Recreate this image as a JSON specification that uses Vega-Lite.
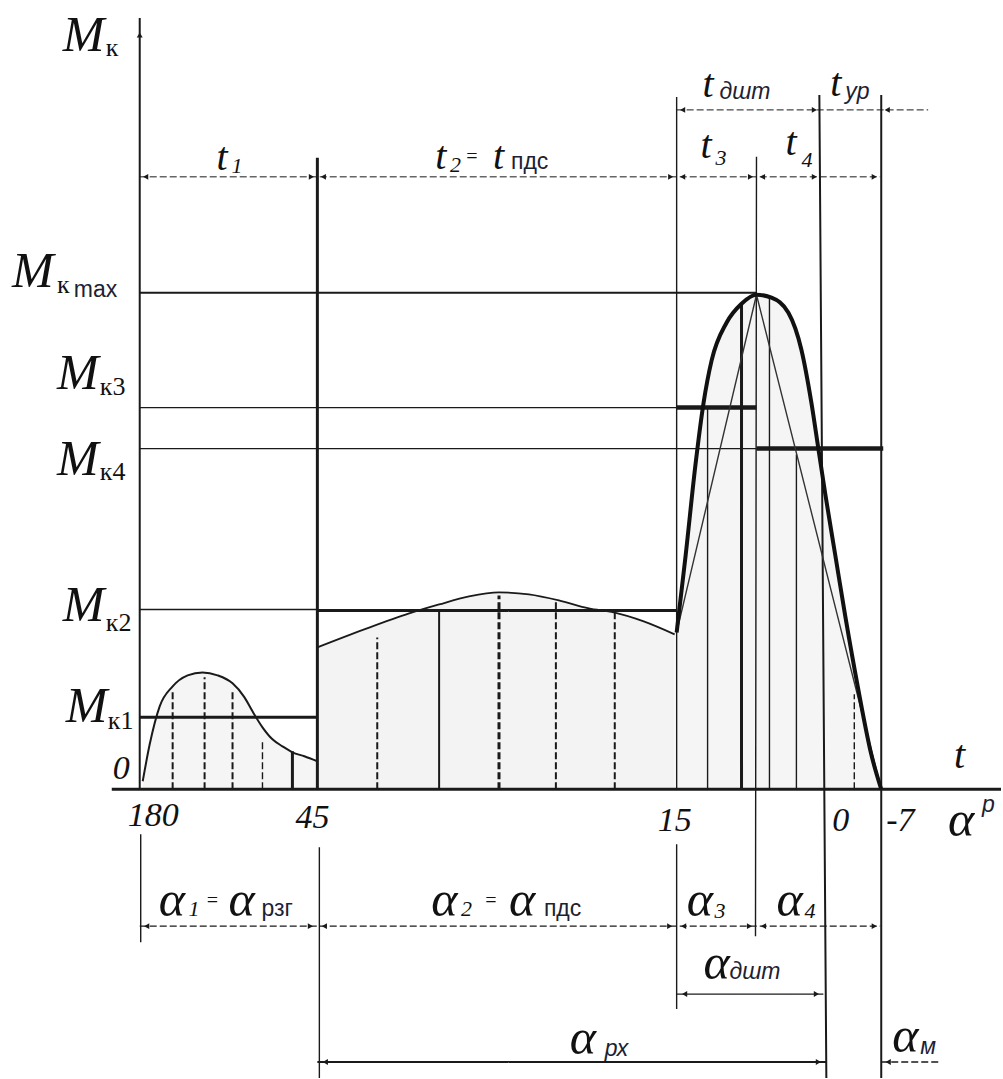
{
  "$schema": "https://vega.github.io/schema/vega-lite/v6.json",
  "width": 1003,
  "height": 1079,
  "autosize": {"type": "fit", "contains": "padding"},
  "padding": 0,
  "background": "white",
  "config": {"view": {"stroke": null}},
  "datasets": {
    "rules": [
      {"x":140,"x2":140,"y":0,"y2":772,"w":"med","d":"solid"},
      {"x":112,"x2":1003,"y":0,"y2":0,"w":"thick","d":"solid"},
      {"x":140,"x2":758,"y":497,"y2":497,"w":"med","d":"solid"},
      {"x":140,"x2":678,"y":382,"y2":382,"w":"thin","d":"solid"},
      {"x":678,"x2":758,"y":382,"y2":382,"w":"heavy","d":"solid"},
      {"x":140,"x2":758,"y":341,"y2":341,"w":"thin","d":"solid"},
      {"x":758,"x2":885,"y":341,"y2":341,"w":"heavy","d":"solid"},
      {"x":140,"x2":318,"y":180,"y2":180,"w":"thin","d":"solid"},
      {"x":318,"x2":678,"y":179,"y2":179,"w":"thick","d":"solid"},
      {"x":140,"x2":318,"y":72,"y2":72,"w":"thick","d":"solid"},
      {"x":318,"x2":318,"y":0,"y2":632,"w":"thick","d":"solid"},
      {"x":320,"x2":320,"y":-58,"y2":-289,"w":"thin","d":"solid"},
      {"x":678,"x2":678,"y":0,"y2":693,"w":"thin","d":"solid"},
      {"x":678,"x2":678,"y":-55,"y2":-220,"w":"thin","d":"solid"},
      {"x":757,"x2":758,"y":-147,"y2":633,"w":"thin","d":"solid"},
      {"x":821,"x2":828,"y":695,"y2":-289,"w":"med","d":"solid"},
      {"x":883,"x2":883,"y":695,"y2":-289,"w":"med","d":"solid"},
      {"x":141,"x2":141,"y":-45,"y2":-153,"w":"thin","d":"solid"},
      {"x":140,"x2":882,"y":613,"y2":613,"w":"hair","d":"dash"},
      {"x":678,"x2":930,"y":680,"y2":680,"w":"hair","d":"dash"},
      {"x":140,"x2":882,"y":-137,"y2":-137,"w":"thin","d":"dash"},
      {"x":678,"x2":825,"y":-205,"y2":-205,"w":"thin","d":"solid"},
      {"x":318,"x2":828,"y":-273,"y2":-273,"w":"med","d":"solid"},
      {"x":883,"x2":943,"y":-273,"y2":-273,"w":"thin","d":"dash"},
      {"x":173,"x2":173,"y":0,"y2":97,"w":"med","d":"dash"},
      {"x":205,"x2":205,"y":0,"y2":112,"w":"med","d":"dash"},
      {"x":233,"x2":233,"y":0,"y2":97,"w":"med","d":"dash"},
      {"x":263,"x2":263,"y":0,"y2":50,"w":"thin","d":"dash"},
      {"x":293,"x2":293,"y":0,"y2":38,"w":"thick","d":"solid"},
      {"x":378,"x2":378,"y":0,"y2":152,"w":"med","d":"dash"},
      {"x":440,"x2":440,"y":0,"y2":180,"w":"med","d":"solid"},
      {"x":500,"x2":500,"y":0,"y2":194,"w":"thick","d":"dash"},
      {"x":557,"x2":557,"y":0,"y2":190,"w":"med","d":"dash"},
      {"x":616,"x2":616,"y":0,"y2":178,"w":"med","d":"dash"},
      {"x":709,"x2":709,"y":0,"y2":382,"w":"thin","d":"solid"},
      {"x":743,"x2":743,"y":0,"y2":486,"w":"thick","d":"solid"},
      {"x":771,"x2":771,"y":0,"y2":492,"w":"thin","d":"solid"},
      {"x":798,"x2":798,"y":0,"y2":335,"w":"thin","d":"solid"},
      {"x":856,"x2":856,"y":0,"y2":95,"w":"thin","d":"dash"}
    ],
    "c1": [
      {"x":143,"y":8},{"x":150,"y":45},{"x":160,"y":83},{"x":173,"y":103},{"x":188,"y":114},{"x":203,"y":117},{"x":218,"y":114},{"x":233,"y":106},{"x":245,"y":92},{"x":253,"y":78},{"x":263,"y":62},{"x":273,"y":50},{"x":283,"y":43},{"x":293,"y":37},{"x":305,"y":33},{"x":318,"y":28}
    ],
    "c2": [
      {"x":318,"y":142},{"x":365,"y":160},{"x":410,"y":176},{"x":440,"y":185},{"x":470,"y":193},{"x":500,"y":197},{"x":530,"y":195},{"x":560,"y":189},{"x":590,"y":181},{"x":615,"y":177},{"x":645,"y":168},{"x":676,"y":155}
    ],
    "c3": [
      {"x":678,"y":157},{"x":687,"y":234},{"x":697,"y":326},{"x":705,"y":387},{"x":713,"y":429},{"x":728,"y":467},{"x":743,"y":486},{"x":758,"y":495},{"x":773,"y":492},{"x":790,"y":477},{"x":803,"y":440},{"x":813,"y":387},{"x":820,"y":341},{"x":827,"y":295},{"x":837,"y":234},{"x":847,"y":173},{"x":860,"y":100},{"x":873,"y":35},{"x":883,"y":0}
    ],
    "tri": [
      {"x":678,"y":157},{"x":758,"y":495},{"x":883,"y":0}
    ],
    "arrows": [
      {"x":140,"y":755,"dir":"U"},
      {"x":146,"y":613,"dir":"L"},{"x":312,"y":613,"dir":"R"},{"x":324,"y":613,"dir":"L"},{"x":672,"y":613,"dir":"R"},{"x":684,"y":613,"dir":"L"},{"x":752,"y":613,"dir":"R"},{"x":764,"y":613,"dir":"L"},{"x":816,"y":613,"dir":"R"},{"x":876,"y":613,"dir":"R"},
      {"x":684,"y":680,"dir":"L"},{"x":816,"y":680,"dir":"R"},{"x":889,"y":680,"dir":"L"},
      {"x":147,"y":-137,"dir":"L"},{"x":311,"y":-137,"dir":"R"},{"x":325,"y":-137,"dir":"L"},{"x":671,"y":-137,"dir":"R"},{"x":685,"y":-137,"dir":"L"},{"x":751,"y":-137,"dir":"R"},{"x":765,"y":-137,"dir":"L"},{"x":876,"y":-137,"dir":"R"},
      {"x":686,"y":-205,"dir":"L"},{"x":818,"y":-205,"dir":"R"},
      {"x":326,"y":-273,"dir":"L"},{"x":820,"y":-273,"dir":"R"},{"x":890,"y":-273,"dir":"L"}
    ],
    "main": [
      {"label":"M","x":63,"y":754,"r":"M"},
      {"label":"M","x":12,"y":518,"r":"M"},
      {"label":"M","x":57,"y":416,"r":"M"},
      {"label":"M","x":57,"y":330,"r":"M"},
      {"label":"M","x":63,"y":183,"r":"M"},
      {"label":"M","x":66,"y":82,"r":"M"},
      {"label":"t","x":217,"y":632,"r":"T"},
      {"label":"t","x":436,"y":633,"r":"T"},
      {"label":"=","x":466,"y":633,"r":"E"},
      {"label":"t","x":494,"y":633,"r":"T"},
      {"label":"t","x":704,"y":705,"r":"T"},
      {"label":"t","x":832,"y":706,"r":"T"},
      {"label":"t","x":702,"y":644,"r":"T"},
      {"label":"t","x":787,"y":647,"r":"T"},
      {"label":"t","x":956,"y":33,"r":"T"},
      {"label":"0","x":113,"y":20,"r":"N"},
      {"label":"180","x":128,"y":-27,"r":"N"},
      {"label":"45","x":296,"y":-29,"r":"N"},
      {"label":"15","x":659,"y":-32,"r":"N"},
      {"label":"0","x":834,"y":-32,"r":"N"},
      {"label":"-7","x":888,"y":-32,"r":"N"},
      {"label":"α","x":950,"y":-32,"r":"A"},
      {"label":"α","x":159,"y":-112,"r":"A"},
      {"label":"=","x":206,"y":-112,"r":"E"},
      {"label":"α","x":229,"y":-112,"r":"A"},
      {"label":"α","x":432,"y":-112,"r":"A"},
      {"label":"=","x":485,"y":-112,"r":"E"},
      {"label":"α","x":510,"y":-112,"r":"A"},
      {"label":"α","x":688,"y":-112,"r":"A"},
      {"label":"α","x":778,"y":-112,"r":"A"},
      {"label":"α","x":705,"y":-175,"r":"A"},
      {"label":"α","x":571,"y":-250,"r":"A"},
      {"label":"α","x":894,"y":-248,"r":"A"}
    ],
    "subk": [
      {"label":"к","x":106,"y":742},
      {"label":"к","x":57,"y":505},
      {"label":"к3","x":100,"y":403},
      {"label":"к4","x":100,"y":318},
      {"label":"к2","x":106,"y":166},
      {"label":"к1","x":108,"y":68}
    ],
    "subd": [
      {"label":"1","x":232,"y":624},
      {"label":"2","x":451,"y":625},
      {"label":"3","x":717,"y":632},
      {"label":"4","x":803,"y":630},
      {"label":"1","x":189,"y":-120},
      {"label":"2","x":462,"y":-120},
      {"label":"3","x":716,"y":-122},
      {"label":"4","x":806,"y":-122}
    ],
    "subs": [
      {"label":"max","x":74,"y":500},
      {"label":"пдс","x":512,"y":628},
      {"label":"рзг","x":262,"y":-120},
      {"label":"пдс","x":545,"y":-120}
    ],
    "subi": [
      {"label":"дшт","x":721,"y":698},
      {"label":"ур","x":847,"y":698},
      {"label":"дшт","x":731,"y":-183},
      {"label":"рх","x":606,"y":-260},
      {"label":"м","x":922,"y":-258},
      {"label":"р","x":984,"y":-16}
    ]
  },
  "layer": [
    {
      "data": {"name": "c2"},
      "mark": {"type": "area", "interpolate": "monotone", "color": "#f3f3f3"},
      "encoding": {
        "x": {"field": "x", "type": "quantitative", "scale": {"domain": [0, 1003], "nice": false, "zero": false}, "axis": null},
        "y": {"field": "y", "type": "quantitative", "scale": {"domain": [-289, 790], "nice": false, "zero": false}, "axis": null},
        "y2": {"datum": 0}
      }
    },
    {
      "data": {"name": "c3"},
      "mark": {"type": "area", "interpolate": "monotone", "color": "#f5f5f5"},
      "encoding": {
        "x": {"field": "x", "type": "quantitative", "axis": null},
        "y": {"field": "y", "type": "quantitative", "axis": null},
        "y2": {"datum": 0}
      }
    },
    {
      "data": {"name": "c1"},
      "mark": {"type": "area", "interpolate": "monotone", "color": "#f5f5f5"},
      "encoding": {
        "x": {"field": "x", "type": "quantitative", "axis": null},
        "y": {"field": "y", "type": "quantitative", "axis": null},
        "y2": {"datum": 0}
      }
    },
    {
      "data": {"name": "rules"},
      "mark": {"type": "rule", "color": "#1a1a1a"},
      "encoding": {
        "x": {"field": "x", "type": "quantitative", "axis": null},
        "x2": {"field": "x2"},
        "y": {"field": "y", "type": "quantitative", "axis": null},
        "y2": {"field": "y2"},
        "strokeWidth": {"field": "w", "type": "nominal", "scale": {"type": "ordinal", "domain": ["hair", "thin", "med", "thick", "heavy"], "range": [1, 1.4, 2, 3, 4.5]}, "legend": null},
        "strokeDash": {"field": "d", "type": "nominal", "scale": {"domain": ["solid", "dash"], "range": [[1, 0], [7, 3]]}, "legend": null}
      }
    },
    {
      "data": {"name": "c1"},
      "mark": {"type": "line", "interpolate": "monotone", "color": "#1a1a1a", "strokeWidth": 2},
      "encoding": {
        "x": {"field": "x", "type": "quantitative", "axis": null},
        "y": {"field": "y", "type": "quantitative", "axis": null}
      }
    },
    {
      "data": {"name": "c2"},
      "mark": {"type": "line", "interpolate": "monotone", "color": "#1a1a1a", "strokeWidth": 1.8},
      "encoding": {
        "x": {"field": "x", "type": "quantitative", "axis": null},
        "y": {"field": "y", "type": "quantitative", "axis": null}
      }
    },
    {
      "data": {"name": "tri"},
      "mark": {"type": "line", "color": "#333333", "strokeWidth": 1.4},
      "encoding": {
        "x": {"field": "x", "type": "quantitative", "axis": null},
        "y": {"field": "y", "type": "quantitative", "axis": null}
      }
    },
    {
      "data": {"name": "c3"},
      "mark": {"type": "line", "interpolate": "monotone", "color": "#111111", "strokeWidth": 4},
      "encoding": {
        "x": {"field": "x", "type": "quantitative", "axis": null},
        "y": {"field": "y", "type": "quantitative", "axis": null}
      }
    },
    {
      "data": {"name": "arrows"},
      "mark": {"type": "point", "filled": true, "color": "#1a1a1a", "size": 35, "opacity": 1},
      "encoding": {
        "x": {"field": "x", "type": "quantitative", "axis": null},
        "y": {"field": "y", "type": "quantitative", "axis": null},
        "shape": {"field": "dir", "type": "nominal", "scale": {"domain": ["L", "R", "U"], "range": ["triangle-left", "triangle-right", "triangle-up"]}, "legend": null}
      }
    },
    {
      "data": {"name": "main"},
      "mark": {"type": "text", "font": "Liberation Serif", "fontStyle": "italic", "align": "left", "baseline": "middle", "color": "#111111"},
      "encoding": {
        "x": {"field": "x", "type": "quantitative", "axis": null},
        "y": {"field": "y", "type": "quantitative", "axis": null},
        "text": {"field": "label"},
        "size": {"field": "r", "type": "nominal", "scale": {"type": "ordinal", "domain": ["M", "A", "T", "N", "E"], "range": [50, 50, 40, 34, 20]}, "legend": null}
      }
    },
    {
      "data": {"name": "subk"},
      "mark": {"type": "text", "font": "Liberation Serif", "fontSize": 26, "align": "left", "baseline": "middle", "color": "#111111"},
      "encoding": {
        "x": {"field": "x", "type": "quantitative", "axis": null},
        "y": {"field": "y", "type": "quantitative", "axis": null},
        "text": {"field": "label"}
      }
    },
    {
      "data": {"name": "subd"},
      "mark": {"type": "text", "font": "Liberation Serif", "fontStyle": "italic", "fontSize": 22, "align": "left", "baseline": "middle", "color": "#111111"},
      "encoding": {
        "x": {"field": "x", "type": "quantitative", "axis": null},
        "y": {"field": "y", "type": "quantitative", "axis": null},
        "text": {"field": "label"}
      }
    },
    {
      "data": {"name": "subs"},
      "mark": {"type": "text", "font": "Liberation Sans", "fontSize": 23, "align": "left", "baseline": "middle", "color": "#1c2233"},
      "encoding": {
        "x": {"field": "x", "type": "quantitative", "axis": null},
        "y": {"field": "y", "type": "quantitative", "axis": null},
        "text": {"field": "label"}
      }
    },
    {
      "data": {"name": "subi"},
      "mark": {"type": "text", "font": "Liberation Sans", "fontStyle": "italic", "fontSize": 23, "align": "left", "baseline": "middle", "color": "#1c2233"},
      "encoding": {
        "x": {"field": "x", "type": "quantitative", "axis": null},
        "y": {"field": "y", "type": "quantitative", "axis": null},
        "text": {"field": "label"}
      }
    }
  ]
}
